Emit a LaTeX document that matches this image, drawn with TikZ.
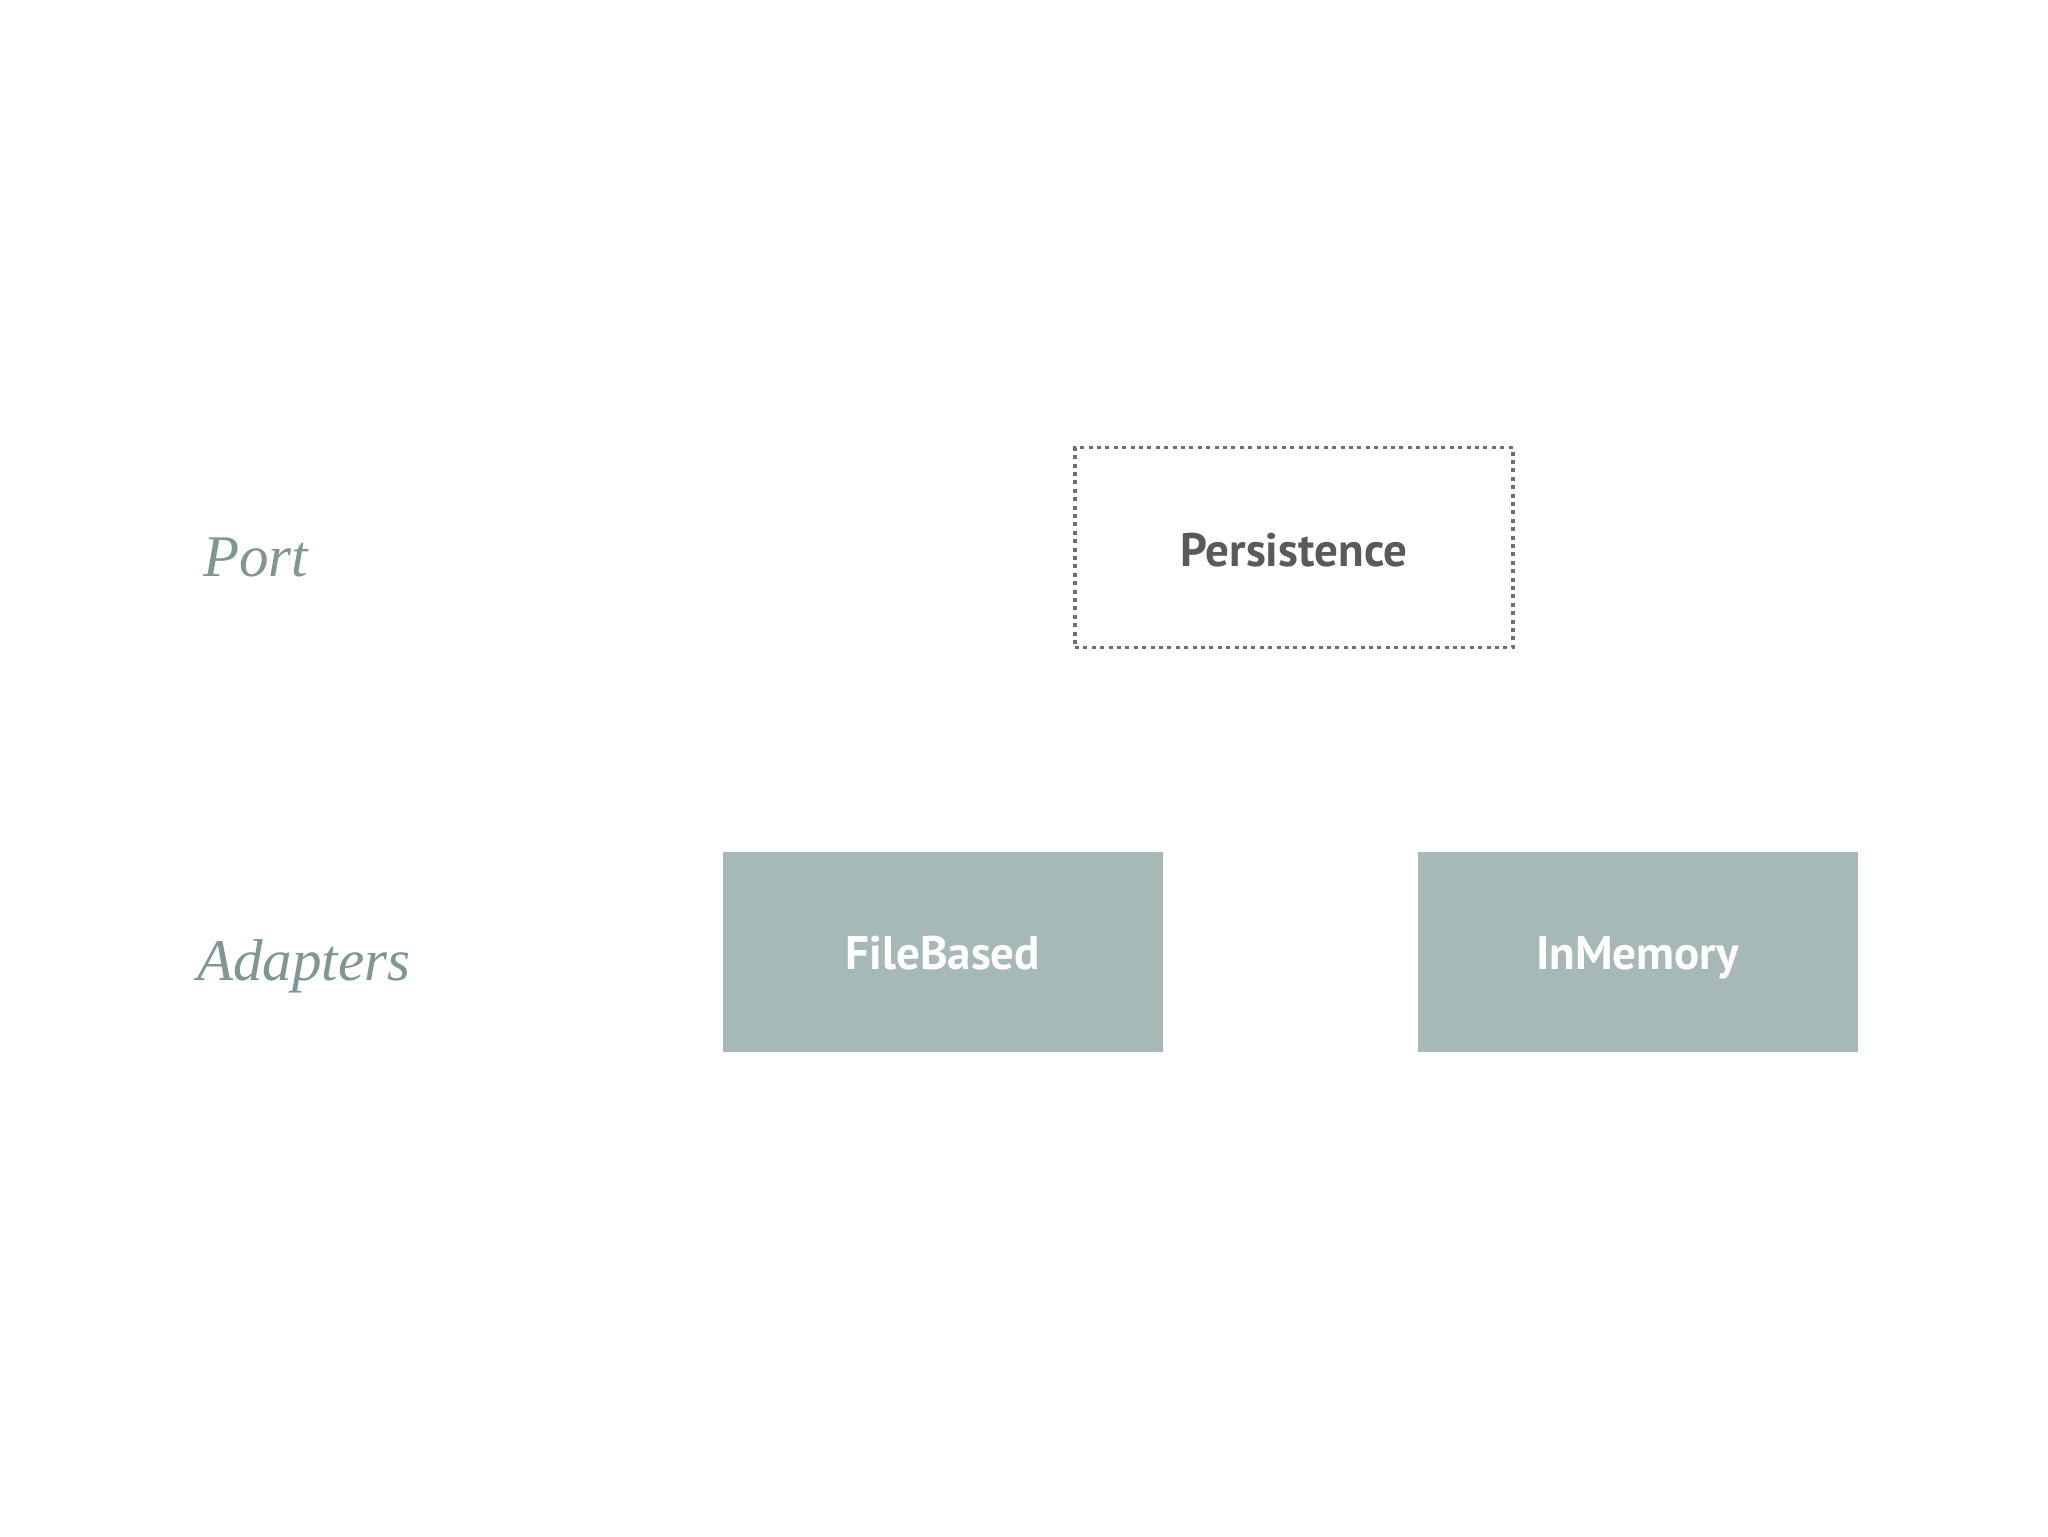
\documentclass[tikz,border=0pt]{standalone}
\usepackage{fontspec}
\setmainfont{Liberation Serif}
\newfontfamily\boxfont{PT Sans}
\newfontfamily\labelfont{Liberation Serif}
\definecolor{adapterfill}{HTML}{A6B9B7}
\definecolor{labelcol}{HTML}{7F9695}
\definecolor{porttext}{HTML}{5A5A5A}
\definecolor{dotcol}{HTML}{6E6E6E}
\tikzset{
  rowlabel/.style={anchor=base west, inner sep=0pt, text=labelcol, font=\labelfont\itshape\fontsize{29.5}{32}\selectfont},
  portbox/.style={draw=dotcol, line width=1.9pt, dash pattern=on 2pt off 2.2pt, minimum width=219pt, minimum height=100pt, inner sep=0pt},
  adapterbox/.style={fill=adapterfill, draw=none, minimum width=220pt, minimum height=100pt, inner sep=0pt},
  porttxt/.style={anchor=base, inner sep=0pt, text=porttext, font=\boxfont\bfseries\fontsize{23.5}{26}\selectfont},
  adaptertxt/.style={anchor=base, inner sep=0pt, text=white, font=\boxfont\bfseries\fontsize{23.5}{26}\selectfont},
}
\begin{document}
\begin{tikzpicture}[x=0.5pt,y=-0.5pt]
\useasboundingbox (0,0) rectangle (2048,1536);
\fill[white] (0,0) rectangle (2048,1536);
\node[portbox] (port) at (1294,547.5) {};
\node[porttxt] (porttext) at (1294,566) {Persistence};
\node[adapterbox] (filebased) at (943,952) {};
\node[adaptertxt] (fbtext) at (943,969) {FileBased};
\node[adapterbox] (inmemory) at (1637.5,952) {};
\node[adaptertxt] (imtext) at (1637.5,969) {InMemory};
\node[rowlabel] (portlabel) at (203,576) {Port};
\node[rowlabel] (adapterslabel) at (197,980) {Adapters};
\end{tikzpicture}
\end{document}
